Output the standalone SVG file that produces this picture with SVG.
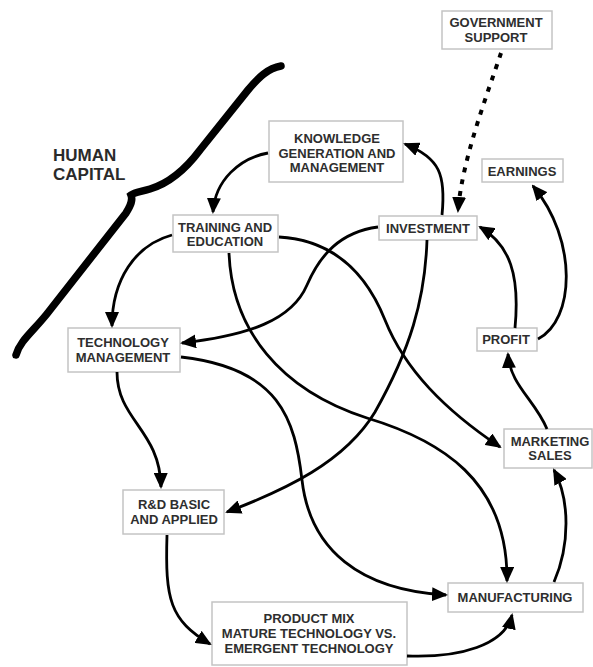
<svg xmlns="http://www.w3.org/2000/svg" width="593" height="667" viewBox="0 0 593 667">
<defs>
<style>
.box{fill:#fff;stroke:#c4c4c4;stroke-width:1.5}
.lbl{font-family:"Liberation Sans",Arial,sans-serif;font-weight:bold;font-size:13px;fill:#2e2e2e;text-anchor:middle}
.big{font-family:"Liberation Sans",Arial,sans-serif;font-weight:bold;font-size:17px;fill:#2a2a2a}
.c{fill:none;stroke:#000;stroke-width:2.8;marker-end:url(#ah)}
.dot{fill:none;stroke:#000;stroke-width:4;stroke-dasharray:5 7;marker-end:url(#ah)}
</style>
<marker id="ah" markerWidth="16" markerHeight="14" refX="14" refY="7" orient="auto" markerUnits="userSpaceOnUse">
<path d="M0,0 L16,7 L0,14 z" fill="#000"/>
</marker>
</defs>
<rect width="593" height="667" fill="#fff"/>

<g id="human-capital">
<path d="M281,66 C268,68 258,78 248,90 L200,150 C185,170 170,183 150,189 C140,192 135,192 131,195 C133,200 131,205 126,213 L50,310 C35,330 20,340 16,355" fill="none" stroke="#000" stroke-width="7.5" stroke-linecap="round" stroke-linejoin="miter"/>
<text class="big" x="53" y="161">HUMAN</text>
<text class="big" x="53" y="180">CAPITAL</text>
</g>

<g id="gov">
<rect class="box" x="442" y="11" width="110" height="38"/>
<text class="lbl" x="496" y="27">GOVERNMENT</text>
<text class="lbl" x="496" y="42">SUPPORT</text>
</g>
<g id="knowledge">
<rect class="box" x="269" y="121" width="134" height="61"/>
<text class="lbl" x="337" y="143">KNOWLEDGE</text>
<text class="lbl" x="337" y="158">GENERATION AND</text>
<text class="lbl" x="337" y="172">MANAGEMENT</text>
</g>
<g id="earnings">
<rect class="box" x="482" y="159" width="81" height="23"/>
<text class="lbl" x="522" y="176">EARNINGS</text>
</g>
<g id="investment">
<rect class="box" x="379" y="216" width="98" height="24"/>
<text class="lbl" x="428" y="233">INVESTMENT</text>
</g>
<g id="training">
<rect class="box" x="173" y="215" width="105" height="37"/>
<text class="lbl" x="225" y="232">TRAINING AND</text>
<text class="lbl" x="225" y="246">EDUCATION</text>
</g>
<g id="techmgmt">
<rect class="box" x="68" y="328" width="112" height="44"/>
<text class="lbl" x="123" y="347">TECHNOLOGY</text>
<text class="lbl" x="123" y="362">MANAGEMENT</text>
</g>
<g id="rnd">
<rect class="box" x="123" y="490" width="101" height="44"/>
<text class="lbl" x="174" y="509">R&amp;D BASIC</text>
<text class="lbl" x="174" y="524">AND APPLIED</text>
</g>
<g id="profit">
<rect class="box" x="477" y="328" width="60" height="23"/>
<text class="lbl" x="506" y="344">PROFIT</text>
</g>
<g id="marketing">
<rect class="box" x="504" y="429" width="88" height="39"/>
<text class="lbl" x="550" y="446">MARKETING</text>
<text class="lbl" x="550" y="460">SALES</text>
</g>
<g id="manufacturing">
<rect class="box" x="448" y="583" width="135" height="29"/>
<text class="lbl" x="515" y="602">MANUFACTURING</text>
</g>
<g id="productmix">
<rect class="box" x="212" y="602" width="195" height="63"/>
<text class="lbl" x="309" y="623">PRODUCT MIX</text>
<text class="lbl" x="309" y="638">MATURE TECHNOLOGY VS.</text>
<text class="lbl" x="309" y="653">EMERGENT TECHNOLOGY</text>
</g>

<g id="connectors">
<path class="dot" d="M501,53 C487,95 462,160 458,211"/>
<path class="c" d="M442,215 C446,175 440,158 405,144"/>
<path class="c" d="M268,153 C240,158 215,180 213,212"/>
<path class="c" d="M172,235 C135,245 112,280 112,326"/>
<path class="c" d="M378,227 C340,232 320,255 307,285 C292,320 250,335 182,343"/>
<path class="c" d="M279,237 C330,240 365,270 385,320 C405,370 445,410 500,447"/>
<path class="c" d="M229,253 C232,330 280,390 367,418 C440,440 508,480 507,581"/>
<path class="c" d="M427,240 C425,300 410,350 375,412 C345,462 285,490 227,512"/>
<path class="c" d="M117,372 C117,420 160,430 161,487"/>
<path class="c" d="M167,535 C165,600 170,620 210,644"/>
<path class="c" d="M407,656 C460,658 505,645 512,615"/>
<path class="c" d="M554,582 C570,545 570,500 554,470"/>
<path class="c" d="M547,429 C535,400 510,385 508,354"/>
<path class="c" d="M515,328 C520,275 510,245 480,227"/>
<path class="c" d="M538,339 C575,320 578,240 533,186"/>
<path class="c" d="M181,357 C280,368 295,420 302,480 C310,550 360,590 446,595"/>
</g>
</svg>
